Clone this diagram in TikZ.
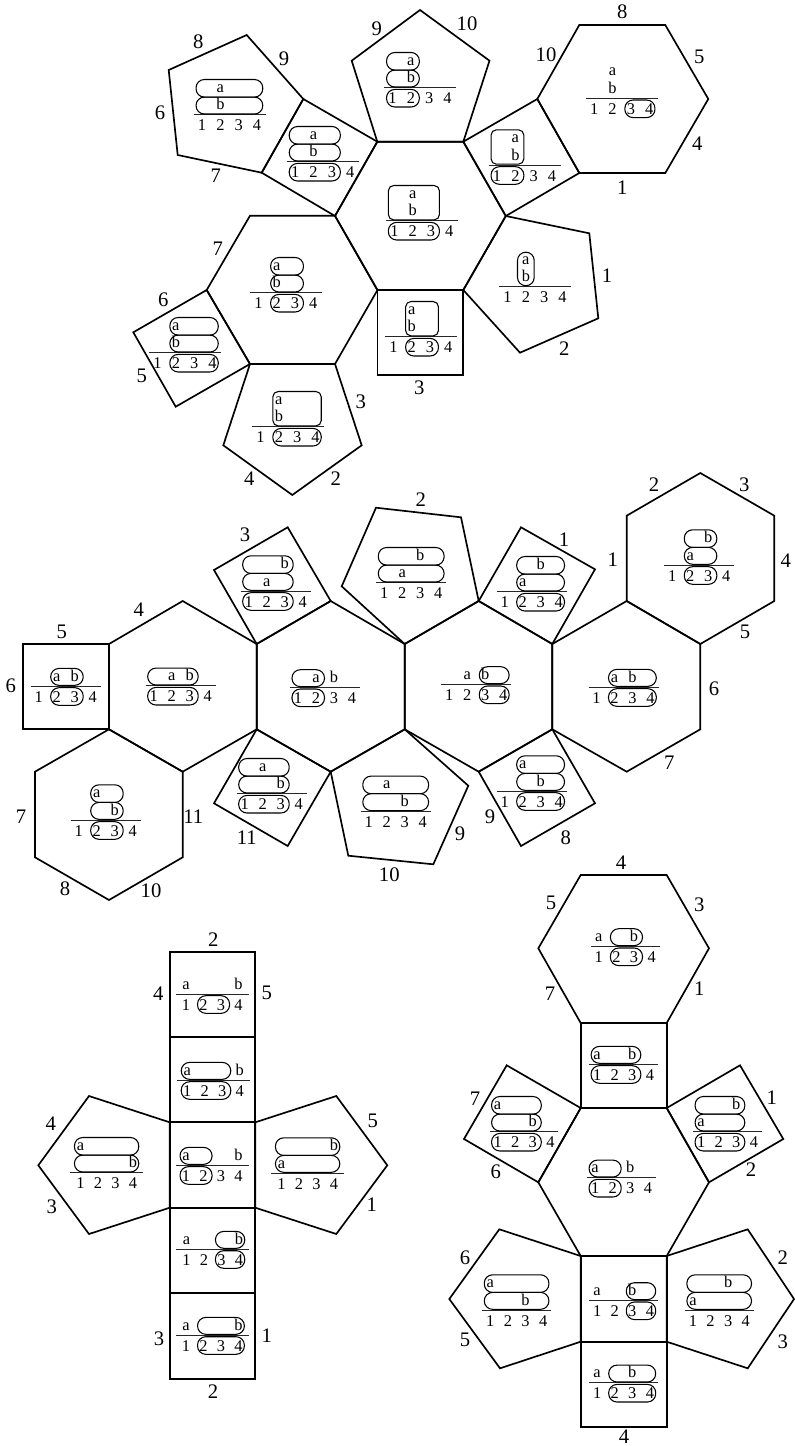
\documentclass[tikz,border=0pt]{standalone}
\usepackage{fontspec}
\setmainfont{Liberation Serif}
\newcount\nodenum
\def\csp{18.3}\def\chw{36}
\newcommand\nxt{\global\advance\nodenum by 1 }
\newcommand\lab[3]{\nxt\node[biglab] (n\the\nodenum) at (#1,#2) {#3};}
\newcommand\poly[1]{\draw[face] plot coordinates {#1} -- cycle;}
\newcommand\cel[3]{\begin{scope}[shift={(#1,#2)}]
  \draw[tabline] (-\chw,0) -- (\chw,0);
  \foreach \i in {1,2,3,4}{\nxt\node[celltxt] (n\the\nodenum) at ({(\i-2.5)*\csp},16) {\i};}
  #3
\end{scope}}
\newcommand\La[2]{\nxt\node[celltxt] (n\the\nodenum) at ({(#1-2.5)*\csp},{-5-(#2-1)*17.5}) {a};}
\newcommand\Lb[2]{\nxt\node[celltxt] (n\the\nodenum) at ({(#1-2.5)*\csp},{-5-(#2-1)*17.5}) {b};}
% oval: column c1..c2, between y-values
\newcommand\rawov[6]{\ifnum#2=4 \def\rp{5.8}\else\def\rp{8.5}\fi
  \draw[oval,rounded corners=#6] ({(#1-2.5)*\csp-6},#3) rectangle ({(#2-2.5)*\csp+\rp},#4);}
\newcommand\ov[3]{\ifcase#3\relax \rawov{#1}{#2}{1.7}{19.3}{}{6.2pt}\or \rawov{#1}{#2}{-17.6}{-0.7}{}{6.2pt}\or \rawov{#1}{#2}{-35.2}{-17.6}{}{6.2pt}\fi}
\newcommand\bx[2]{\rawov{#1}{#2}{-35.2}{-0.8}{}{4pt}}
\begin{document}
\begin{tikzpicture}[x=0.75pt,y=-0.75pt,
  face/.style={draw=black,line width=1.25pt,line join=miter},
  tabline/.style={draw=black!85,line width=0.6pt},
  oval/.style={draw=black,line width=0.8pt},
  celltxt/.style={inner sep=0pt,anchor=base,font=\fontsize{12.3}{12.3}\selectfont},
  biglab/.style={inner sep=0pt,anchor=center,font=\fontsize{15.5}{15.5}\selectfont}]
\useasboundingbox (0,0) rectangle (794,1446);
% ===== top group =====
\poly{(377.3,141.7) (463.3,141.7) (505.8,216) (463.3,290) (377.3,290) (335,216)}
\poly{(246.7,35) (303.3,99) (261.7,172.7) (177.7,155) (168.7,70)}
\poly{(303.3,99) (377.3,141.7) (335,216) (261.7,172.7)}
\poly{(420,10) (489.5,60.7) (463.3,141.7) (377.3,141.7) (351.7,60.7)}
\poly{(463.3,141.7) (537.3,99) (579.3,173) (505.8,216)}
\poly{(579.3,25) (665.3,25) (708.3,99) (665.3,173) (579.3,173) (537.3,99)}
\poly{(505.8,216) (589.3,233.3) (598.3,318.3) (520,352.7) (463.3,290)}
\poly{(250,215.7) (335,215.7) (377.5,290) (335,364) (250,364) (206.7,290)}
\poly{(377.5,290) (463.3,290) (463.3,375) (377.5,375)}
\poly{(206.7,290) (250,364) (175.7,406.7) (133.3,332.3)}
\poly{(250,364) (335,364) (361.7,445.3) (292.3,495) (223.3,445.3)}
\def\csp{18.3}\def\chw{36}
\cel{229.5}{114.7}{\ov{1}{4}{2}\ov{1}{4}{1}\La{2}{2}\Lb{2}{1}}
\cel{322.7}{161.7}{\ov{1}{3}{2}\ov{1}{3}{1}\ov{1}{3}{0}\La{2}{2}\Lb{2}{1}}
\cel{420}{87.7}{\ov{1}{2}{2}\ov{1}{2}{1}\ov{1}{2}{0}\La{2}{2}\Lb{2}{1}}
\cel{421.8}{220.7}{\bx{1}{3}\ov{1}{3}{0}\La{2}{2}\Lb{2}{1}}
\cel{524.5}{165}{\bx{1}{2}\ov{1}{2}{0}\La{2}{2}\Lb{2}{1}}
\cel{621.7}{98.3}{\ov{3}{4}{0}\La{2}{2}\Lb{2}{1}}
\cel{535}{286.7}{\draw[oval,rounded corners=6.2pt] (-17.5,-34.5) rectangle (-0.8,-1);\La{2}{2}\Lb{2}{1}}
\cel{285.8}{292.7}{\ov{2}{3}{2}\ov{2}{3}{1}\ov{2}{3}{0}\La{2}{2}\Lb{2}{1}}
\cel{420.8}{336.7}{\bx{2}{3}\ov{2}{3}{0}\La{2}{2}\Lb{2}{1}}
\cel{185}{352.7}{\ov{2}{4}{2}\ov{2}{4}{1}\ov{2}{4}{0}\La{2}{2}\Lb{2}{1}}
\cel{288}{426.7}{\bx{2}{4}\ov{2}{4}{0}\La{2}{2}\Lb{2}{1}}
\lab{198.3}{41.7}{8}\lab{284}{58.3}{9}\lab{160}{112.7}{6}\lab{215.7}{176}{7}
\lab{376.7}{28.3}{9}\lab{467}{24}{10}
\lab{622.3}{11.7}{8}\lab{699.3}{56.7}{5}\lab{697.3}{143.3}{4}\lab{622.3}{187.7}{1}\lab{546}{55}{10}
\lab{607}{275.7}{1}\lab{564.3}{348.3}{2}
\lab{217.7}{248.3}{7}\lab{163.3}{299.3}{6}\lab{141.7}{375.7}{5}
\lab{419.3}{387.3}{3}\lab{360.7}{401.7}{3}\lab{335.7}{479}{2}\lab{249.3}{478.3}{4}
% ===== middle group =====
\poly{(23.3,644) (109,644) (109,729.3) (23.3,729.3)}
\poly{(109,644) (182.7,601) (256.7,644) (256.7,729.3) (182.7,771.7) (109,729.3)}
\poly{(109,729.3) (182.7,771.7) (182.7,857.3) (109,900) (35,857.3) (35,771.7)}
\poly{(256.7,644) (330.7,601) (404.7,644) (404.7,729.3) (330.7,771.7) (256.7,729.3)}
\poly{(256.7,644) (330.7,601) (287.7,527.3) (214,570)}
\poly{(256.7,729.3) (330.7,771.7) (287.7,846) (214,803.3)}
\poly{(478.7,601) (461,517.3) (376,507.7) (341.7,586.3) (404.7,644)}
\poly{(404.7,729.3) (468.3,785.7) (433.3,864.3) (348.3,855.7) (330.7,771.7)}
\poly{(404.7,644) (478.7,601) (552.3,644) (552.3,729.3) (478.7,771.7) (404.7,729.3)}
\poly{(478.7,601) (552.3,644) (595,569.3) (521,527.3)}
\poly{(478.7,771.7) (552.3,729.3) (595,803.3) (521,846)}
\poly{(552.3,644) (626.7,601) (700.3,644) (700.3,729.3) (626.7,771.7) (552.3,729.3)}
\poly{(626.7,601) (700.3,644) (774.3,601) (774.3,515.7) (700.3,473) (626.7,515.7)}
\def\csp{18}\def\chw{35}
\cel{65.7}{686}{\ov{2}{3}{1}\ov{2}{3}{0}\La{2}{1}\Lb{3}{1}}
\cel{180.7}{685.7}{\ov{1}{3}{1}\ov{1}{3}{0}\La{2}{1}\Lb{3}{1}}
\cel{105.7}{820}{\ov{2}{3}{2}\ov{2}{3}{1}\ov{2}{3}{0}\La{2}{2}\Lb{3}{1}}
\cel{325}{687.3}{\ov{1}{2}{1}\ov{1}{2}{0}\La{2}{1}\Lb{3}{1}}
\cel{275.7}{591}{\ov{1}{3}{2}\ov{1}{3}{1}\ov{1}{3}{0}\Lb{3}{2}\La{2}{1}}
\cel{271.7}{793.7}{\ov{1}{3}{2}\ov{1}{3}{1}\ov{1}{3}{0}\La{2}{2}\Lb{3}{1}}
\cel{411.3}{582.7}{\ov{1}{4}{2}\ov{1}{4}{1}\Lb{3}{2}\La{2}{1}}
\cel{395.8}{811.3}{\ov{1}{4}{2}\ov{1}{4}{1}\La{2}{2}\Lb{3}{1}}
\cel{476.3}{684.3}{\ov{3}{4}{1}\ov{3}{4}{0}\La{2}{1}\Lb{3}{1}}
\cel{531.7}{591.7}{\ov{2}{4}{2}\ov{2}{4}{1}\ov{2}{4}{0}\Lb{3}{2}\La{2}{1}}
\cel{531.7}{791}{\ov{2}{4}{2}\ov{2}{4}{1}\ov{2}{4}{0}\La{2}{2}\Lb{3}{1}}
\cel{623.5}{687}{\ov{2}{4}{1}\ov{2}{4}{0}\La{2}{1}\Lb{3}{1}}
\cel{699.3}{565}{\ov{2}{3}{2}\ov{2}{3}{1}\ov{2}{3}{0}\Lb{3}{2}\La{2}{1}}
\lab{61.7}{631.7}{5}\lab{10.7}{686}{6}\lab{138.7}{610}{4}\lab{245}{535}{3}
\lab{21}{816.7}{7}\lab{193.3}{816.7}{11}\lab{246.7}{837.3}{11}\lab{65}{888.3}{8}\lab{151}{891}{10}
\lab{389.3}{875}{10}\lab{460}{833.3}{9}\lab{490}{816.7}{9}\lab{565.7}{838}{8}
\lab{420.7}{500}{2}\lab{564}{540}{1}\lab{612.7}{560}{1}\lab{654}{484.3}{2}\lab{744.3}{485}{3}
\lab{785.7}{560.7}{4}\lab{745}{632.3}{5}\lab{714}{688.3}{6}\lab{669.3}{762.7}{7}
% ===== bottom left group =====
\poly{(169.7,951.7) (255.3,951.7) (255.3,1037) (169.7,1037)}
\poly{(169.7,1037) (255.3,1037) (255.3,1122.3) (169.7,1122.3)}
\poly{(169.7,1122.3) (255.3,1122.3) (255.3,1207.7) (169.7,1207.7)}
\poly{(169.7,1207.7) (255.3,1207.7) (255.3,1293.3) (169.7,1293.3)}
\poly{(169.7,1293.3) (255.3,1293.3) (255.3,1379) (169.7,1379)}
\poly{(169.7,1122.3) (89,1096) (38.3,1165.3) (89,1234) (169.7,1207.7)}
\poly{(255.3,1122.3) (336.3,1096) (387.3,1165.3) (336.3,1234) (255.3,1207.7)}
\def\csp{17.5}\def\chw{36.5}
\cel{212.3}{994}{\ov{2}{3}{0}\La{1}{1}\Lb{4}{1}}
\cel{213.5}{1080}{\ov{1}{3}{1}\ov{1}{3}{0}\La{1}{1}\Lb{4}{1}}
\cel{212.3}{1165}{\ov{1}{2}{1}\ov{1}{2}{0}\La{1}{1}\Lb{4}{1}}
\cel{212.7}{1249}{\ov{3}{4}{1}\ov{3}{4}{0}\La{1}{1}\Lb{4}{1}}
\cel{212.3}{1335}{\ov{2}{4}{1}\ov{2}{4}{0}\La{1}{1}\Lb{4}{1}}
\cel{106.7}{1172.7}{\ov{1}{4}{2}\ov{1}{4}{1}\La{1}{2}\Lb{4}{1}}
\cel{307.7}{1173}{\ov{1}{4}{2}\ov{1}{4}{1}\Lb{4}{2}\La{1}{1}}
\lab{213.3}{939.3}{2}\lab{158.3}{994}{4}\lab{266.7}{993.3}{5}\lab{50.7}{1124}{4}\lab{51.7}{1206.7}{3}
\lab{372.7}{1121}{5}\lab{371.7}{1205}{1}\lab{159}{1339}{3}\lab{266.7}{1336}{1}\lab{213}{1392}{2}
% ===== bottom right group =====
\poly{(580.7,875) (666.7,875) (709,948.3) (666.7,1023) (580.7,1023) (538.3,948.3)}
\poly{(580.7,1023) (666.7,1023) (666.7,1108) (580.7,1108)}
\poly{(580.7,1108) (506.7,1065.3) (464,1139) (538.3,1182.3)}
\poly{(666.7,1108) (740,1065.3) (783.3,1139) (709,1182.3)}
\poly{(580.7,1108) (666.7,1108) (709,1182.3) (666.7,1256) (580.7,1256) (538.3,1182.3)}
\poly{(580.7,1256) (666.7,1256) (666.7,1341.7) (580.7,1341.7)}
\poly{(580.7,1341.7) (666.7,1341.7) (666.7,1426.7) (580.7,1426.7)}
\poly{(580.7,1256) (499.3,1229.3) (449.3,1299) (500,1368.3) (580.7,1341.7)}
\poly{(666.7,1256) (747.7,1229.3) (794,1299) (747.7,1368.3) (666.7,1341.7)}
\def\csp{17.6}\def\chw{34.3}
\cel{625.2}{946.3}{\ov{2}{3}{1}\ov{2}{3}{0}\La{1}{1}\Lb{3}{1}}
\cel{623.5}{1064}{\ov{1}{3}{1}\ov{1}{3}{0}\La{1}{1}\Lb{3}{1}}
\cel{524}{1131.7}{\ov{1}{3}{2}\ov{1}{3}{1}\ov{1}{3}{0}\La{1}{2}\Lb{3}{1}}
\cel{727.5}{1131.7}{\ov{1}{3}{2}\ov{1}{3}{1}\ov{1}{3}{0}\Lb{3}{2}\La{1}{1}}
\cel{621.5}{1177.7}{\ov{1}{2}{1}\ov{1}{2}{0}\La{1}{1}\Lb{3}{1}}
\cel{623.5}{1300.3}{\ov{3}{4}{1}\ov{3}{4}{0}\La{1}{1}\Lb{3}{1}}
\cel{516.7}{1310}{\ov{1}{4}{2}\ov{1}{4}{1}\La{1}{2}\Lb{3}{1}}
\cel{719.3}{1310}{\ov{1}{4}{2}\ov{1}{4}{1}\Lb{3}{2}\La{1}{1}}
\cel{623.5}{1382.7}{\ov{2}{4}{1}\ov{2}{4}{0}\La{1}{1}\Lb{3}{1}}
\lab{621}{862.7}{4}\lab{551}{903.3}{5}\lab{699.3}{905}{3}\lab{550}{993.3}{7}\lab{699.3}{988.3}{1}
\lab{475}{1098.3}{7}\lab{771.7}{1097.3}{1}\lab{495.7}{1171.7}{6}\lab{751}{1170}{2}
\lab{465}{1257.3}{6}\lab{782.7}{1257.3}{2}\lab{465}{1340}{5}\lab{782.7}{1341.7}{3}\lab{624}{1436.7}{4}
\end{tikzpicture}
\end{document}
